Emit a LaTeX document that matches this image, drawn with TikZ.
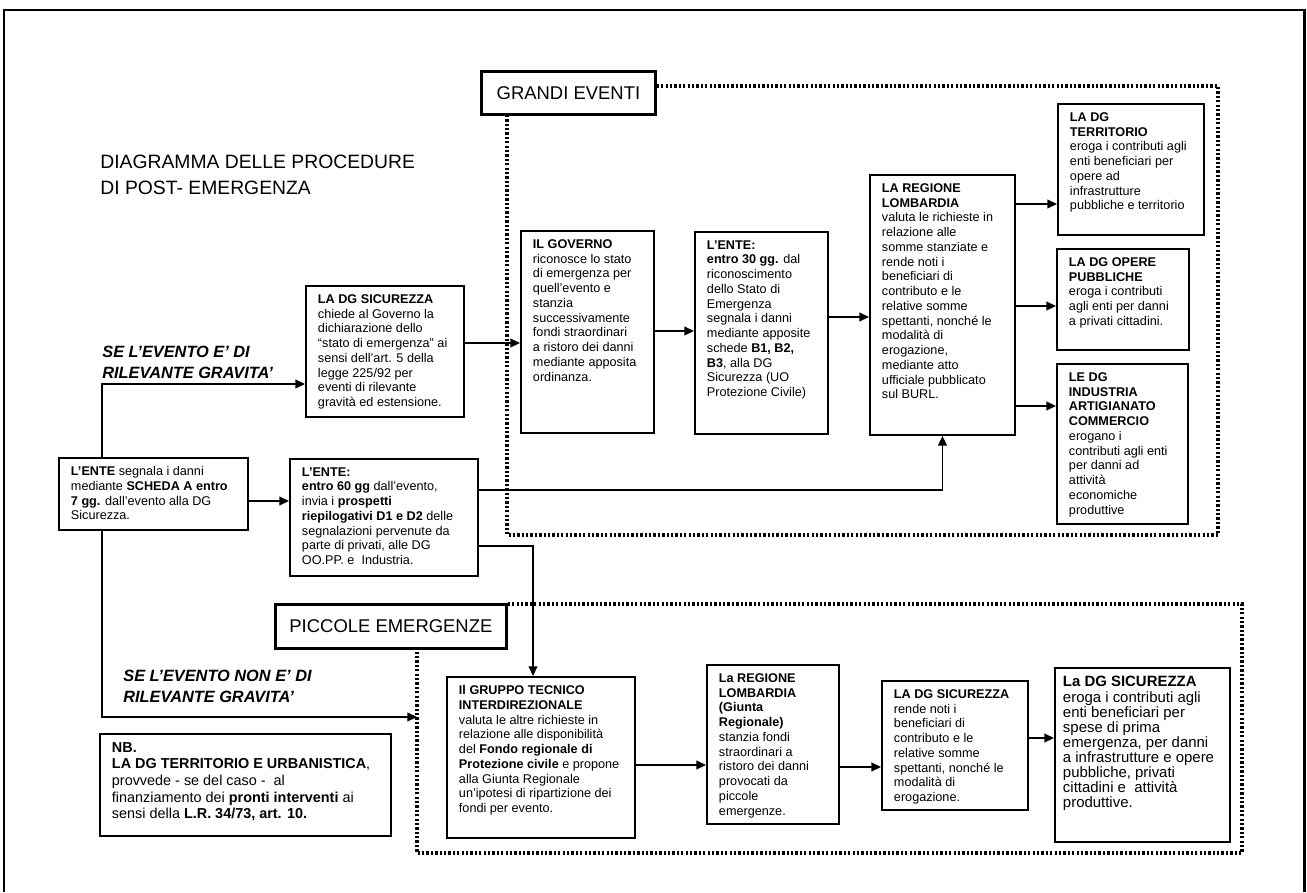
\documentclass[tikz,border=0pt]{standalone}
\usepackage{fontspec}
\setmainfont{Liberation Sans}
\usetikzlibrary{arrows.meta, positioning}
\newdimen\upx \upx=0.02cm
\newcommand{\cell}[3]{\parbox[t][#2\upx][t]{#1\upx}{\raggedright #3}}

\begin{document}
\begin{tikzpicture}[
  x=0.02cm, y=-0.02cm,
  blk/.style={draw, line width=1.1pt, anchor=north west, inner xsep=0.24cm,
              inner ysep=0.17cm, font=\fontsize{7.2}{8.4}\selectfont},
  head/.style={draw, line width=1.6pt, anchor=north west, inner sep=0pt,
               font=\fontsize{10.5}{12}\selectfont},
  cond/.style={anchor=north west, inner sep=0pt, align=left,
               font=\fontsize{9.3}{11.6}\selectfont\bfseries\itshape},
  arr/.style={-{Triangle[length=5.5pt, width=5pt]}, line width=0.8pt},
  zone/.style={line width=2pt, dash pattern=on 1.3pt off 1.2pt}
]
\useasboundingbox (0,0) rectangle (1307,892);
\draw[line width=1.7pt] (4,892) -- (4,10) -- (1304,10) -- (1304,892);

\node[anchor=north west, inner sep=0pt, align=left,
      font=\fontsize{11}{14.7}\selectfont] (title) at (100,155)
  {DIAGRAMMA DELLE PROCEDURE\\DI POST- EMERGENZA};

\node[head, minimum width=174\upx, minimum height=43\upx] (grandi) at (480,70) {GRANDI EVENTI};
\node[head, minimum width=231\upx, minimum height=44\upx] (piccole) at (274,603) {PICCOLE EMERGENZE};

\node[cond] (seA) at (102,346) {SE L'EVENTO E' DI\\RILEVANTE GRAVITA'};
\node[cond] (seB) at (123,670) {SE L'EVENTO NON E' DI\\RILEVANTE GRAVITA'};

% grandi eventi
\node[blk] (ente) at (58,457) {\cell{165}{55}{%
  \textbf{L'ENTE} segnala i danni\\mediante \textbf{SCHEDA A entro}\\
  \textbf{7 gg.} dall'evento alla DG\\Sicurezza.}};
\node[blk] (sicG) at (305,285) {\cell{134}{114}{%
  \textbf{LA DG SICUREZZA}\\chiede al Governo la\\dichiarazione dello\\
  ``stato di emergenza'' ai\\sensi dell'art. 5 della\\legge 225/92 per\\
  eventi di rilevante\\gravità ed estensione.}};
\node[blk] (enteB) at (289,458) {\cell{164}{100}{%
  \textbf{L'ENTE:}\\\textbf{entro 60 gg} dall'evento,\\invia i \textbf{prospetti}\\
  \textbf{riepilogativi D1 e D2} delle\\segnalazioni pervenute da\\
  parte di privati, alle DG\\OO.PP. e\ \ Industria.}};
\node[blk] (gov) at (520,230) {\cell{109}{185}{%
  \textbf{IL GOVERNO}\\riconosce lo stato\\di emergenza per\\quell'evento e\\stanzia\\
  successivamente\\fondi straordinari\\a ristoro dei danni\\mediante apposita\\ordinanza.}};
\node[blk] (enteC) at (694,231) {\cell{109}{185}{%
  \textbf{L'ENTE:}\\\textbf{entro 30 gg.} dal\\riconoscimento\\dello Stato di\\Emergenza\\
  segnala i danni\\mediante apposite\\schede \textbf{B1, B2,}\\\textbf{B3}, alla DG\\
  Sicurezza (UO\\Protezione Civile)}};
\node[blk] (reg) at (869,174) {\cell{121}{243}{%
  \textbf{LA REGIONE}\\\textbf{LOMBARDIA}\\valuta le richieste in\\relazione alle\\
  somme stanziate e\\rende noti i\\beneficiari di\\contributo e le\\relative somme\\
  spettanti, nonché le\\modalità di\\erogazione,\\mediante atto\\
  ufficiale pubblicato\\sul BURL.}};
\node[blk] (terr) at (1057,103) {\cell{122}{114}{%
  \textbf{LA DG}\\\textbf{TERRITORIO}\\eroga i contributi agli\\enti beneficiari per\\
  opere ad\\infrastrutture\\pubbliche e territorio}};
\node[blk] (opere) at (1056,248) {\cell{108}{84}{%
  \textbf{LA DG OPERE}\\\textbf{PUBBLICHE}\\eroga i contributi\\agli enti per danni\\
  a privati cittadini.}};
\node[blk] (ind) at (1056,363) {\cell{107}{143}{%
  \textbf{LE DG}\\\textbf{INDUSTRIA}\\\textbf{ARTIGIANATO}\\\textbf{COMMERCIO}\\
  erogano i\\contributi agli enti\\per danni ad\\attività\\economiche\\produttive}};

% piccole emergenze
\node[blk] (grp) at (446,676) {\cell{164}{144}{%
  \textbf{Il GRUPPO TECNICO}\\\textbf{INTERDIREZIONALE}\\valuta le altre richieste in\\
  relazione alle disponibilità\\del \textbf{Fondo regionale di}\\
  \textbf{Protezione civile} e propone\\alla Giunta Regionale\\
  un'ipotesi di ripartizione dei\\fondi per evento.}};
\node[blk] (regP) at (706,664) {\cell{108}{142}{%
  \textbf{La REGIONE}\\\textbf{LOMBARDIA}\\\textbf{(Giunta}\\\textbf{Regionale)}\\
  stanzia fondi\\straordinari a\\ristoro dei danni\\provocati da\\piccole\\emergenze.}};
\node[blk] (sicP) at (881,680) {\cell{122}{112}{%
  \textbf{LA DG SICUREZZA}\\rende noti i\\beneficiari di\\contributo e le\\
  relative somme\\spettanti, nonché le\\modalità di\\erogazione.}};
\node[blk, inner xsep=0.16cm, font=\fontsize{8.5}{8.6}\selectfont] (sicF) at (1054,667)
  {\cell{159}{157}{%
  \textbf{La DG SICUREZZA}\\eroga i contributi agli\\enti beneficiari per\\spese di prima\\
  emergenza, per danni\\a infrastrutture e opere\\pubbliche, privati\\
  cittadini e\ \ attività\\produttive.}};

\node[blk, font=\fontsize{8.2}{9.45}\selectfont] (nb) at (99,733) {\cell{267}{85}{%
  \textbf{NB.}\\\textbf{LA DG TERRITORIO E URBANISTICA},\\provvede - se del caso -\ \ al\\
  finanziamento dei \textbf{pronti interventi} ai\\sensi della \textbf{L.R. 34/73, art. 10.}}};

% zones
\coordinate (gTR) at (1218,86);
\coordinate (gBL) at (507,535);
\coordinate (pTR) at (1242,604);
\coordinate (pBL) at (417,853);
\draw[zone] (grandi.east |- gTR) -- (gTR) |- (gBL) -- (grandi.south -| gBL);
\draw[zone] (piccole.east |- pTR) -- (pTR) |- (pBL) -- (piccole.south -| pBL);

% connectors
\coordinate (up) at (102,384);
\coordinate (down) at (102,717);
\coordinate (hSG) at (0,343);
\coordinate (hGE) at (0,331);
\coordinate (hER) at (0,317);
\coordinate (hT) at (0,204);
\coordinate (hO) at (0,306);
\coordinate (hI) at (0,406);
\coordinate (hE1) at (0,501);
\coordinate (hB1) at (0,490);
\coordinate (hB2) at (0,546);
\coordinate (drop) at (533,0);
\coordinate (hGR) at (0,765);
\coordinate (hRS) at (0,767);
\coordinate (hSS) at (0,738);

\draw[arr] (ente.north -| up) -- (up) -- (sicG.west |- up);
\draw[arr] (ente.south -| down) -- (down) -- (pBL |- down);
\draw[arr] (ente.east |- hE1) -- (enteB.west |- hE1);
\draw[arr] (sicG.east |- hSG) -- (gov.west |- hSG);
\draw[arr] (gov.east |- hGE) -- (enteC.west |- hGE);
\draw[arr] (enteC.east |- hER) -- (reg.west |- hER);
\draw[arr] (reg.east |- hT) -- (terr.west |- hT);
\draw[arr] (reg.east |- hO) -- (opere.west |- hO);
\draw[arr] (reg.east |- hI) -- (ind.west |- hI);
\draw[arr] (enteB.east |- hB1) -| (reg.south);
\draw[arr] (enteB.east |- hB2) -| (grp.north -| drop);
\draw[arr] (grp.east |- hGR) -- (regP.west |- hGR);
\draw[arr] (regP.east |- hRS) -- (sicP.west |- hRS);
\draw[arr] (sicP.east |- hSS) -- (sicF.west |- hSS);
\end{tikzpicture}
\end{document}
